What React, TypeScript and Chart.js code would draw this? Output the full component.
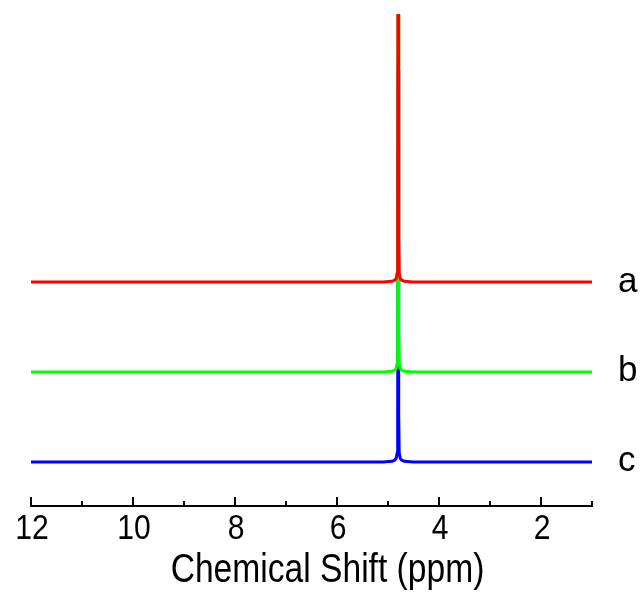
import React, { useEffect, useRef } from "react";
import { Chart, registerables } from "chart.js";

Chart.register(...registerables);

// Chemical shift axis (ppm) sample points
const ppm = [12, 5.1, 4.92, 4.87, 4.84, 4.82, 4.81, 4.8, 4.79, 4.78, 4.76, 4.73, 4.68, 4.5, 1];
// Intensities relative to each trace's baseline
const specA = [0, 0, 0.008, 0.02, 0.04, 0.1, 0.5, 6.2, 0.5, 0.1, 0.04, 0.02, 0.008, 0, 0];
const specB = [0, 0, 0.008, 0.02, 0.04, 0.1, 0.5, 5.6, 0.5, 0.1, 0.04, 0.02, 0.008, 0, 0];
const specC = [0, 0, 0.008, 0.02, 0.04, 0.1, 0.5, 4.35, 0.5, 0.1, 0.04, 0.02, 0.008, 0, 0];
const seriesNames = ["a", "b", "c"];
const seriesOffsets = [2, 1, 0];
const seriesColors = ["#ff0000", "#00ff00", "#0000ff"];

const majorTicks = [12, 10, 8, 6, 4, 2];
const tickLabels = ["12", "10", "8", "6", "4", "2"];
const minorTicks = [11, 9, 7, 5, 3, 1];
const xTitle = "Chemical Shift (ppm)";

const FONT = '"Liberation Sans", Arial, Helvetica, sans-serif';

const axisPlugin = {
  id: "nmrAxis",
  afterDraw(chart: any) {
    const ctx = chart.ctx as CanvasRenderingContext2D;
    const xs = chart.scales.x;
    const ys = chart.scales.y;
    const { left, right, bottom } = chart.chartArea;
    ctx.save();
    ctx.strokeStyle = "#000";
    ctx.fillStyle = "#000";
    ctx.lineWidth = 2;
    ctx.lineCap = "butt";
    // axis line
    ctx.beginPath();
    ctx.moveTo(left - 1, bottom);
    ctx.lineTo(right + 1, bottom);
    ctx.stroke();
    // major ticks (inward)
    majorTicks.forEach((v) => {
      const px = xs.getPixelForValue(v);
      ctx.beginPath();
      ctx.moveTo(px, bottom + 1);
      ctx.lineTo(px, bottom - 9);
      ctx.stroke();
    });
    minorTicks.forEach((v) => {
      const px = xs.getPixelForValue(v);
      ctx.beginPath();
      ctx.moveTo(px, bottom + 1);
      ctx.lineTo(px, bottom - 5);
      ctx.stroke();
    });
    // tick labels (slightly condensed)
    ctx.textAlign = "center";
    ctx.textBaseline = "alphabetic";
    ctx.font = `35px ${FONT}`;
    majorTicks.forEach((v, i) => {
      const px = xs.getPixelForValue(v);
      ctx.save();
      ctx.translate(px + 1, bottom + 33);
      ctx.scale(0.86, 1);
      ctx.fillText(tickLabels[i], 0, 0);
      ctx.restore();
    });
    // axis title
    ctx.font = `40px ${FONT}`;
    ctx.save();
    ctx.translate((left + right) / 2 + 16, bottom + 76);
    ctx.scale(0.84, 1);
    ctx.fillText(xTitle, 0, 0);
    ctx.restore();
    // series labels
    ctx.font = `35px ${FONT}`;
    ctx.textAlign = "left";
    seriesNames.forEach((name, i) => {
      const py = ys.getPixelForValue(seriesOffsets[i]);
      ctx.fillText(name, right + 26, py + 9.5);
    });
    ctx.restore();
  },
};

export default function App() {
  const ref = useRef<HTMLCanvasElement>(null);
  useEffect(() => {
    const specs = [specA, specB, specC];
    const chart = new Chart(ref.current as HTMLCanvasElement, {
      type: "line",
      data: {
        datasets: specs.map((s, i) => ({
          label: seriesNames[i],
          data: ppm.map((x, j) => ({ x, y: s[j] + seriesOffsets[i] })),
          borderColor: seriesColors[i],
          backgroundColor: seriesColors[i],
          borderWidth: 3,
          pointRadius: 0,
          tension: 0,
          fill: false,
          borderJoinStyle: "round",
        })),
      },
      options: {
        animation: false,
        responsive: false,
        maintainAspectRatio: false,
        layout: { padding: { left: 31, right: 51, top: 14, bottom: 87 } },
        plugins: { legend: { display: false }, tooltip: { enabled: false }, title: { display: false } },
        scales: {
          x: { type: "linear", min: 1, max: 12, reverse: true, display: false },
          y: { type: "linear", min: -0.489, max: 4.978, display: false },
        },
      },
      plugins: [axisPlugin],
    } as any);
    return () => chart.destroy();
  }, []);
  return (
    <div style={{ position: "fixed", left: 0, top: 0, width: 643, height: 593, background: "#fff" }}>
      <canvas ref={ref} width={643} height={593} style={{ display: "block" }} />
    </div>
  );
}
